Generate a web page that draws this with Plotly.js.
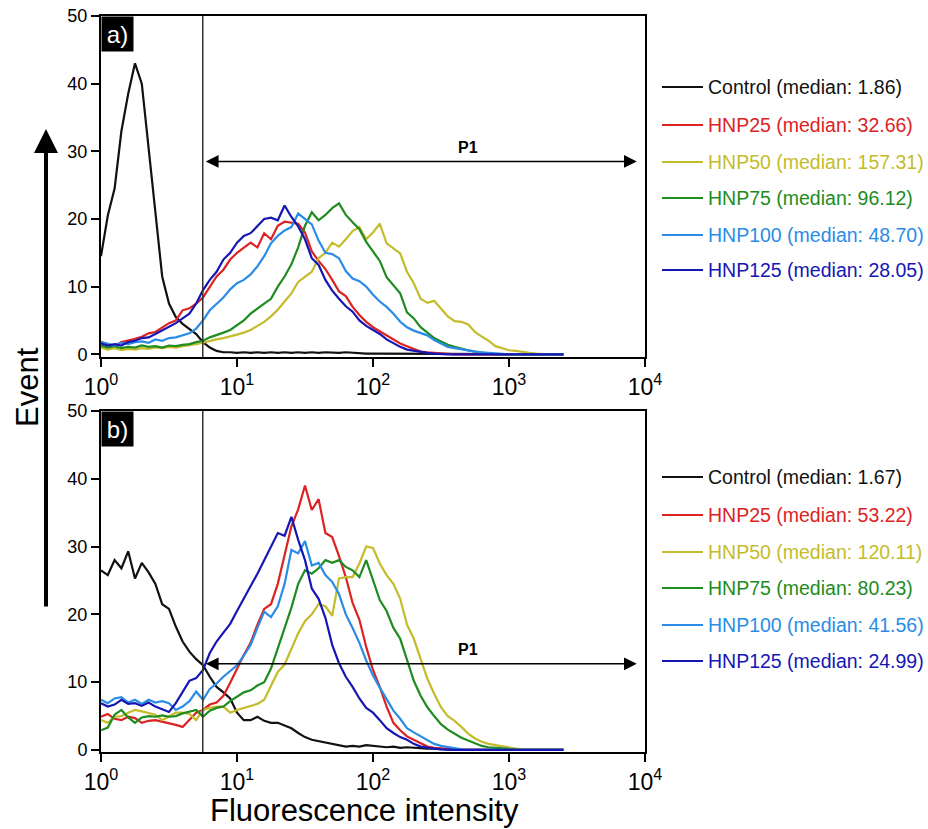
<!DOCTYPE html>
<html>
<head>
<meta charset="utf-8">
<script src="https://cdn.plot.ly/plotly-3.0.1.min.js"></script>
<style>html,body{margin:0;padding:0;background:#fff;}#chart{width:928px;height:829px;}</style>
</head>
<body>
<div id="chart"></div>
<script>
// ---------- DATA ----------
const fluorescence = [1.000,1.122,1.259,1.413,1.585,1.778,1.995,2.239,2.512,2.818,
 3.162,3.548,3.981,4.467,5.012,5.623,6.310,7.079,7.943,8.913,
 10.00,11.22,12.59,14.13,15.85,17.78,19.95,22.39,25.12,28.18,
 31.62,35.48,39.81,44.67,50.12,56.23,63.10,70.79,79.43,89.13,
 100.0,112.2,125.9,141.3,158.5,177.8,199.5,223.9,251.2,281.8,
 316.2,354.8,398.1,446.7,501.2,562.3,631.0,707.9,794.3,891.3,
 1000,1122,1259,1413,1585,1778,1995,2239,2512];

const seriesNames = ["Control","HNP25","HNP50","HNP75","HNP100","HNP125"];
const mediansA = ["1.86","32.66","157.31","96.12","48.70","28.05"];
const mediansB = ["1.67","53.22","120.11","80.23","41.56","24.99"];
const panelLabels = ["a)","b)"];
const xTickVals = [1,10,100,1000,10000];
const xTickText = ["10<sup>0</sup>","10<sup>1</sup>","10<sup>2</sup>","10<sup>3</sup>","10<sup>4</sup>"];
const yTickVals = [0,10,20,30,40,50];
const gateX = 5.6;
const p1Start = 5.75, p1End = 8700, p1LabelX = 500;
const p1YA = 28.5, p1LabelYA = 30.6;
const p1YB = 12.7, p1LabelYB = 14.8;

const topControl = [14.5,20.5,24.5,33,38.5,43,40,30.5,21,11.5,
 7.5,5.5,4.5,3.8,3,1.8,1,0.5,0.3,0.3,
 0.2,0.3,0.2,0.3,0.2,0.3,0.2,0.3,0.2,0.3,
 0.2,0.3,0.2,0.3,0.2,0.2,0.3,0.2,0.2,0.1,
 0.1,0.1,0.1,0.1,0.1,0.1,0,0,0,0,
 0,0,0,0,0,0,0,0,0,0,
 0,0,0,0,0,0,0,0,0];
const topHNP25 = [1.8,1.5,1.2,1.8,2.0,2.3,2.6,3.1,3.3,4.0,
 4.6,5.0,6.5,6.8,7.5,8.4,10.0,11.5,12.5,14.0,
 15.0,15.8,16.5,15.8,17.9,17.0,19.0,19.6,19.5,19.3,
 18.0,15.2,13.8,12.6,11.0,9.3,8.6,7.0,5.8,4.8,
 4.0,3.4,2.7,2.1,1.6,1.2,0.8,0.4,0.3,0.2,
 0.1,0,0,0,0,0,0,0,0,0,
 0,0,0,0,0,0,0,0,0];
const topHNP50 = [1.0,0.7,0.9,0.6,0.8,0.7,0.9,0.8,1.0,0.9,
 1.1,1.0,1.2,1.3,1.5,1.7,2.0,2.2,2.4,2.6,
 2.9,3.2,3.6,4.2,4.8,5.6,6.6,7.8,9.0,10.7,
 11.5,12.2,14.2,15.0,16.5,15.9,17.0,18.2,18.8,17.0,
 18.0,19.3,16.4,15.6,14.9,12.2,10.5,8.2,7.6,7.9,
 6.7,5.6,4.9,4.8,4.4,3.3,2.6,2.0,1.2,0.9,
 0.6,0.5,0.3,0.2,0.1,0,0,0,0];
const topHNP75 = [1.3,1.0,1.2,0.9,1.1,1.0,1.3,1.1,1.2,1.0,
 1.3,1.2,1.4,1.5,1.8,2.0,2.5,2.8,3.2,3.6,
 4.3,5.0,6.0,6.8,7.5,8.2,10.0,11.5,13.3,15.8,
 19.0,21.0,19.8,20.6,21.6,22.3,20.6,19.5,18.5,16.6,
 15.2,13.8,11.4,10.2,9.0,6.2,5.3,4.0,3.2,2.4,
 1.9,1.4,1.1,0.8,0.6,0.4,0.2,0.1,0,0,
 0,0,0,0,0,0,0,0,0];
const topHNP100 = [1.8,1.6,1.3,1.7,1.5,1.8,1.9,1.7,2.2,2.0,
 2.4,2.5,2.8,3.1,3.8,5.0,6.5,7.5,8.4,9.6,
 10.5,11.0,11.8,13.0,14.5,16.4,17.5,18.3,18.8,20.8,
 20.0,19.2,16.8,15.0,14.8,14.2,12.3,11.2,10.8,10.0,
 8.8,7.8,7.0,6.0,4.8,4.0,3.5,3.1,2.8,2.1,
 1.6,1.1,0.9,0.7,0.6,0.4,0.3,0.2,0.1,0,
 0,0,0,0,0,0,0,0,0];
const topHNP125 = [1.6,1.3,1.5,1.3,1.8,2.0,2.4,2.5,3.0,3.5,
 4.0,4.6,5.3,6.0,7.5,9.5,11.0,12.2,14.0,15.0,
 16.5,17.5,17.9,19.0,20.0,20.2,19.8,22.0,20.3,18.9,
 17.0,14.2,13.2,11.0,9.4,8.2,7.1,6.3,5.0,4.2,
 3.6,3.0,2.2,1.6,1.1,0.7,0.5,0.3,0.2,0.1,
 0,0,0,0,0,0,0,0,0,0,
 0,0,0,0,0,0,0,0,0];

const bottomControl = [26.5,25.8,28.0,26.8,29.3,25.3,27.6,26.2,24.5,21.5,
 20.8,18.2,16.0,14.5,13.4,12.5,10.8,9.3,8.5,7.6,
 5.5,4.4,4.4,4.9,4.3,4.0,4.0,3.6,3.2,2.5,
 1.9,1.5,1.3,1.0,0.9,0.7,0.5,0.6,0.5,0.7,
 0.6,0.5,0.4,0.5,0.3,0.4,0.3,0.3,0.2,0.2,
 0.1,0,0,0,0,0,0,0,0,0,
 0,0,0,0,0,0,0,0,0];
const bottomHNP25 = [4.9,5.3,4.6,4.4,4.9,4.7,4.0,4.3,4.4,4.2,
 4.0,3.7,3.4,4.5,5.5,5.9,6.7,7.0,8.0,9.9,
 12.0,14.0,15.8,18.5,20.8,21.5,24.5,29.0,33.0,35.5,
 39.0,35.4,37.0,32.0,31.4,28.6,25.5,21.7,19.2,15.2,
 11.8,9.3,6.4,4.0,2.9,2.0,1.5,1.0,0.5,0.3,
 0.2,0.1,0,0,0,0,0,0,0,0,
 0,0,0,0,0,0,0,0,0];
const bottomHNP50 = [4.4,4.0,4.9,5.0,5.5,5.9,5.7,5.5,5.2,4.4,
 5.0,5.5,5.5,5.3,4.4,5.9,6.2,6.4,6.4,5.5,
 5.9,6.2,6.4,6.8,7.4,9.5,11.5,12.6,14.8,17.2,
 19.0,20.0,21.5,21.2,19.8,25.3,25.5,25.5,27.5,30.0,
 29.8,27.5,25.8,24.5,22.3,18.5,16.4,13.5,10.5,8.3,
 6.3,5.0,4.3,3.4,2.4,1.7,1.2,0.9,0.7,0.5,
 0.3,0.2,0.1,0,0,0,0,0,0];
const bottomHNP75 = [2.9,3.3,5.2,5.9,4.8,4.0,4.8,5.0,4.9,5.1,
 4.9,5.0,5.4,5.6,5.9,4.9,5.8,6.2,6.4,7.2,
 7.8,8.5,8.8,9.5,10.0,12.0,15.0,18.0,21.0,24.5,
 26.5,26.0,26.8,28.0,27.6,28.0,27.0,26.5,25.5,28.0,
 25.0,22.1,20.5,18.0,16.4,13.3,10.2,8.0,6.3,5.0,
 3.8,3.0,2.4,1.8,1.4,1.0,0.6,0.4,0.3,0.2,
 0.1,0,0,0,0,0,0,0,0];
const bottomHNP100 = [7.4,6.9,7.6,7.8,7.0,7.4,6.8,7.4,7.0,7.2,
 6.9,5.9,6.4,7.2,8.6,7.4,9.0,9.8,10.8,11.6,
 12.5,13.9,15.5,18.0,20.4,19.6,21.2,24.5,29.5,29.0,
 30.8,27.2,27.6,25.8,24.8,23.0,20.0,18.0,15.8,13.2,
 11.0,9.2,7.4,5.8,4.6,3.2,2.6,2.0,1.4,0.9,
 0.6,0.4,0.2,0.1,0,0,0,0,0,0,
 0,0,0,0,0,0,0,0,0];
const bottomHNP125 = [6.9,6.4,6.7,7.4,6.8,6.9,6.5,7.0,6.4,6.0,
 5.6,6.9,8.5,10.2,10.6,11.8,14.3,16.0,17.3,18.6,
 20.5,22.3,24.0,26.0,28.0,30.0,32.0,31.6,34.4,31.0,
 28.0,23.8,22.3,19.5,15.5,12.8,10.8,9.3,7.6,6.2,
 5.5,4.4,3.2,2.5,1.9,1.5,0.9,0.5,0.3,0.2,
 0.1,0,0,0,0,0,0,0,0,0,
 0,0,0,0,0,0,0,0,0];

// ---------- STYLE ----------
const colors = ["#111111","#dc2323","#c4bc2a","#1e8c1e","#2a8ce6","#1616b4"];
const FONT = "Liberation Sans, Arial, Helvetica, sans-serif";
const topSeries = [topControl, topHNP25, topHNP50, topHNP75, topHNP100, topHNP125];
const bottomSeries = [bottomControl, bottomHNP25, bottomHNP50, bottomHNP75, bottomHNP100, bottomHNP125];

// pixel geometry helpers (paper coordinates)
const PL = 101, PR = 645, PT = 16, PB = 752;
const px2paperX = p => (p - PL) / (PR - PL);
const px2paperY = p => (PB - p) / (PB - PT);

const traces = [];
topSeries.forEach((ys, i) => traces.push({
  x: fluorescence, y: ys, xaxis: 'x', yaxis: 'y', type: 'scatter', mode: 'lines',
  line: {color: colors[i], width: 2.2}, name: seriesNames[i], showlegend: false, hoverinfo: 'skip'
}));
bottomSeries.forEach((ys, i) => traces.push({
  x: fluorescence, y: ys, xaxis: 'x2', yaxis: 'y2', type: 'scatter', mode: 'lines',
  line: {color: colors[i], width: 2.2}, name: seriesNames[i], showlegend: false, hoverinfo: 'skip'
}));

const xAxisBase = {
  type: 'log', range: [0, 4], tickvals: xTickVals, ticktext: xTickText,
  ticks: 'outside', ticklen: 8, tickwidth: 2, tickcolor: '#000',
  showline: true, linewidth: 2, linecolor: '#000', mirror: true,
  showgrid: false, zeroline: false, tickfont: {family: FONT, size: 23, color: '#000'}
};
const yAxisBase = {
  tickvals: yTickVals, ticks: 'outside', ticklen: 8, tickwidth: 2, tickcolor: '#000',
  showline: true, linewidth: 2, linecolor: '#000', mirror: true,
  showgrid: false, zeroline: false, tickfont: {family: FONT, size: 18, color: '#000'}
};

const topDomain = [px2paperY(357), 1];
const botDomain = [0, px2paperY(411)];

const shapes = [];
const annotations = [];

// gate lines
['', '2'].forEach(s => shapes.push({
  type: 'line', xref: 'x' + s, yref: 'y' + s + ' domain', x0: gateX, x1: gateX, y0: 0, y1: 1,
  line: {color: '#333', width: 1.5}
}));

// P1 arrows
[['', p1YA, p1LabelYA], ['2', p1YB, p1LabelYB]].forEach(([s, yv, ly]) => {
  annotations.push({
    xref: 'x' + s, yref: 'y' + s, x: Math.log10(p1End), y: yv,
    axref: 'x' + s, ayref: 'y' + s, ax: Math.log10(p1Start), ay: yv,
    text: '', showarrow: true, arrowside: 'end+start',
    arrowhead: 2, startarrowhead: 2, arrowsize: 1.7, startarrowsize: 1.7,
    arrowwidth: 1.5, arrowcolor: '#000', standoff: 0, startstandoff: 0
  });
  annotations.push({
    xref: 'x' + s, yref: 'y' + s, x: Math.log10(p1LabelX), y: ly,
    text: '<b>P1</b>', showarrow: false, font: {family: FONT, size: 16, color: '#000'}
  });
});

// panel labels
[['', panelLabels[0]], ['2', panelLabels[1]]].forEach(([s, t]) => annotations.push({
  xref: 'x' + s + ' domain', yref: 'y' + s + ' domain', x: 0, y: 1,
  xanchor: 'left', yanchor: 'top', text: t, showarrow: false,
  bgcolor: '#000', font: {family: FONT, size: 24, color: '#fff'},
  width: 29, height: 32, borderpad: 1
}));

// legends (manual)
const legendTopY = [87, 125, 162, 198, 235, 270];
const legendBotY = [477, 515, 552, 588, 625, 661];
[[legendTopY, mediansA], [legendBotY, mediansB]].forEach(([ys, meds]) => {
  seriesNames.forEach((n, i) => {
    shapes.push({
      type: 'line', xref: 'paper', yref: 'paper',
      x0: px2paperX(662), x1: px2paperX(703), y0: px2paperY(ys[i]), y1: px2paperY(ys[i]),
      line: {color: colors[i], width: 2}
    });
    annotations.push({
      xref: 'paper', yref: 'paper', x: px2paperX(706), y: px2paperY(ys[i]),
      xanchor: 'left', yanchor: 'middle', showarrow: false,
      text: n + ' (median: ' + meds[i] + ')',
      font: {family: FONT, size: 19.5, color: colors[i]}
    });
  });
});

// Y title "Event" with arrow
annotations.push({
  xref: 'paper', yref: 'paper', x: px2paperX(27), y: px2paperY(387),
  xanchor: 'center', yanchor: 'middle', textangle: -90, showarrow: false,
  text: 'Event', font: {family: FONT, size: 31, color: '#000'}
});
annotations.push({
  xref: 'paper', yref: 'paper', x: px2paperX(46), y: px2paperY(129),
  ax: 0, ay: 479, text: '', showarrow: true, arrowhead: 2, arrowsize: 1.2,
  arrowwidth: 4, arrowcolor: '#000', standoff: 0
});
// X title
annotations.push({
  xref: 'paper', yref: 'paper', x: px2paperX(364), y: px2paperY(811),
  xanchor: 'center', yanchor: 'middle', showarrow: false,
  text: 'Fluorescence intensity', font: {family: FONT, size: 31, color: '#000'}
});

const layout = {
  width: 928, height: 829,
  margin: {l: PL, r: 928 - PR, t: PT, b: 829 - PB, pad: 0},
  paper_bgcolor: '#fff', plot_bgcolor: '#fff',
  font: {family: FONT, color: '#000'},
  showlegend: false,
  xaxis: Object.assign({}, xAxisBase, {domain: [0, 1], anchor: 'y'}),
  yaxis: Object.assign({}, yAxisBase, {domain: topDomain, anchor: 'x', range: [-0.4, 50]}),
  xaxis2: Object.assign({}, xAxisBase, {domain: [0, 1], anchor: 'y2'}),
  yaxis2: Object.assign({}, yAxisBase, {domain: botDomain, anchor: 'x2', range: [-0.3, 50]}),
  shapes: shapes,
  annotations: annotations
};

Plotly.newPlot('chart', traces, layout, {staticPlot: true, displayModeBar: false});
</script>
</body>
</html>
